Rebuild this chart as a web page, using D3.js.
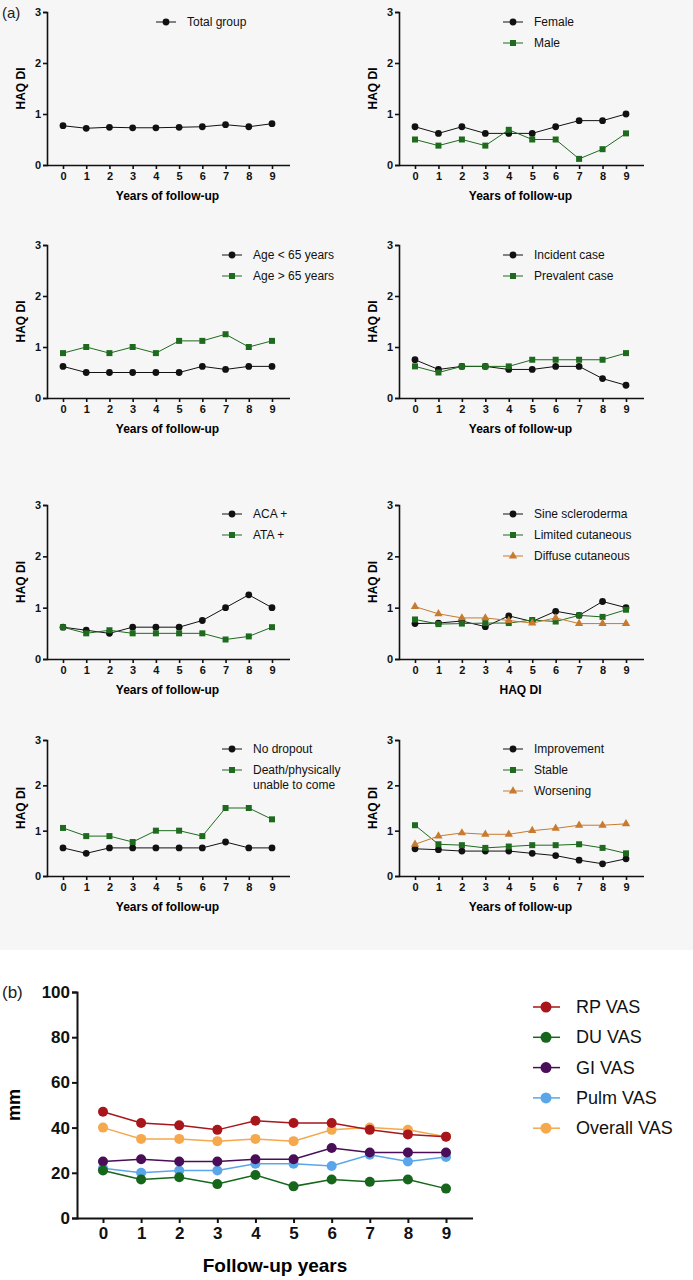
<!DOCTYPE html>
<html><head><meta charset="utf-8">
<script src="https://cdn.jsdelivr.net/npm/d3@7"></script>
<style>body{margin:0;background:#fff}svg{display:block;font-family:Arial,"Liberation Sans",sans-serif}</style>
</head><body>
<svg id="c" width="693" height="1280"></svg>
<script>
const years = [0,1,2,3,4,5,6,7,8,9]
const haqTicks = [0,1,2,3]
const total = [.77,.72,.74,.73,.73,.74,.75,.79,.75,.81]
const female = [.75,.62,.75,.62,.62,.62,.75,.87,.87,1.0]
const male = [.5,.38,.5,.38,.69,.5,.5,.12,.31,.62]
const ageLow = [.62,.5,.5,.5,.5,.5,.62,.56,.62,.62]
const ageHigh = [.88,1.0,.88,1.0,.88,1.12,1.12,1.25,1.0,1.12]
const incident = [.75,.56,.62,.62,.56,.56,.62,.62,.38,.25]
const prevalent = [.62,.5,.62,.62,.62,.75,.75,.75,.75,.88]
const aca = [.62,.56,.5,.62,.62,.62,.75,1.0,1.25,1.0]
const ata = [.62,.5,.56,.5,.5,.5,.5,.38,.44,.62]
const sine = [.69,.7,.74,.63,.84,.73,.93,.85,1.12,1.0]
const limited = [.77,.68,.69,.7,.7,.76,.73,.85,.82,.96]
const diffuse = [1.02,.88,.8,.8,.75,.7,.8,.69,.69,.69]
const noDropout = [.62,.5,.62,.62,.62,.62,.62,.75,.62,.62]
const death = [1.06,.88,.88,.75,1.0,1.0,.88,1.5,1.5,1.25]
const improvement = [.6,.58,.55,.55,.55,.5,.45,.35,.27,.38]
const stable = [1.12,.7,.68,.62,.65,.68,.68,.7,.62,.5]
const worsening = [.7,.88,.95,.92,.92,1.0,1.05,1.12,1.12,1.15]

const vasTicks = [0,20,40,60,80,100]
const rpVas = [47,42,41,39,43,42,42,39,37,36]
const duVas = [21,17,18,15,19,14,17,16,17,13]
const giVas = [25,26,25,25,26,26,31,29,29,29]
const pulmVas = [22,20,21,21,24,24,23,28,25,27]
const overallVas = [40,35,35,34,35,34,39,40,39,36]

const BLK = '#111', GRN = '#1e6a1e', ORG = '#c87a2e'
const panels = [
  {col:0,row:0,xl:'Years of follow-up',lg:[166,22],series:[{n:['Total group'],v:total,c:BLK,s:'circle'}]},
  {col:1,row:0,xl:'Years of follow-up',lg:[513,22],series:[{n:['Female'],v:female,c:BLK,s:'circle'},{n:['Male'],v:male,c:GRN,s:'square'}]},
  {col:0,row:1,xl:'Years of follow-up',lg:[232,255],series:[{n:['Age < 65 years'],v:ageLow,c:BLK,s:'circle'},{n:['Age > 65 years'],v:ageHigh,c:GRN,s:'square'}]},
  {col:1,row:1,xl:'Years of follow-up',lg:[513,255],series:[{n:['Incident case'],v:incident,c:BLK,s:'circle'},{n:['Prevalent case'],v:prevalent,c:GRN,s:'square'}]},
  {col:0,row:2,xl:'Years of follow-up',lg:[232,514],series:[{n:['ACA +'],v:aca,c:BLK,s:'circle'},{n:['ATA +'],v:ata,c:GRN,s:'square'}]},
  {col:1,row:2,xl:'HAQ DI',lg:[513,514],series:[{n:['Sine scleroderma'],v:sine,c:BLK,s:'circle'},{n:['Limited cutaneous'],v:limited,c:GRN,s:'square'},{n:['Diffuse cutaneous'],v:diffuse,c:ORG,s:'triangle'}]},
  {col:0,row:3,xl:'Years of follow-up',lg:[232,749],series:[{n:['No dropout'],v:noDropout,c:BLK,s:'circle'},{n:['Death/physically','unable to come'],v:death,c:GRN,s:'square'}]},
  {col:1,row:3,xl:'Years of follow-up',lg:[513,749],series:[{n:['Improvement'],v:improvement,c:BLK,s:'circle'},{n:['Stable'],v:stable,c:GRN,s:'square'},{n:['Worsening'],v:worsening,c:ORG,s:'triangle'}]}
]
const rowY = [[12,165],[245,398],[505,659],[740,876]]
const colX = [[47,63,272,290],[399,415,626,644]]

const svg = d3.select('#c')
svg.append('rect').attr('width',693).attr('height',950).attr('fill','#f6f6f6')
svg.append('text').attr('x',2).attr('y',18).attr('font-size',15).attr('fill','#222').text('(a)')

const symType = {circle:d3.symbolCircle,square:d3.symbolSquare,triangle:d3.symbolTriangle}
function marker(g,shape,color,x,y,size){
  g.append('path').attr('d',d3.symbol(symType[shape],size)()).attr('transform',`translate(${x},${y})`).attr('fill',color)
}

panels.forEach(p=>{
  const [ax,x0,x9,xe] = colX[p.col], [yt,yb] = rowY[p.row]
  const x = d3.scaleLinear().domain([0,9]).range([x0,x9])
  const y = d3.scaleLinear().domain([0,3]).range([yb,yt])
  const g = svg.append('g')
  const ya = g.append('g').attr('transform',`translate(${ax},0)`).call(d3.axisLeft(y).tickValues(haqTicks).tickFormat(d3.format('d')).tickSize(4).tickPadding(2))
  const xa = g.append('g').attr('transform',`translate(0,${yb})`).call(d3.axisBottom(x).tickValues(years).tickSize(4).tickPadding(3))
  xa.select('.domain').attr('d',`M${ax},0.5H${xe}`)
  ;[ya,xa].forEach(a=>{a.selectAll('path,line').attr('stroke','#111').attr('stroke-width',1.6);a.selectAll('text').attr('font-size',11).attr('font-weight','bold').attr('fill','#111')})
  g.append('text').attr('transform',`translate(${ax-22},${(yt+yb)/2}) rotate(-90)`).attr('text-anchor','middle').attr('font-size',12).attr('font-weight','bold').text('HAQ DI')
  g.append('text').attr('x',(x0+x9)/2).attr('y',yb+35).attr('text-anchor','middle').attr('font-size',12).attr('font-weight','bold').text(p.xl)
  p.series.forEach((s,i)=>{
    const line = d3.line().x((d,j)=>x(years[j])).y(d=>y(d))
    g.append('path').attr('d',line(s.v)).attr('fill','none').attr('stroke',s.c).attr('stroke-width',1)
    s.v.forEach((d,j)=>marker(g,s.s,s.c,x(years[j]),y(d),s.s==='triangle'?30:36))
    const [lx,ly] = p.lg, yy = ly+i*21
    g.append('line').attr('x1',lx-10).attr('x2',lx+10).attr('y1',yy).attr('y2',yy).attr('stroke',s.c)
    marker(g,s.s,s.c,lx,yy,s.s==='triangle'?30:36)
    s.n.forEach((t,k)=>g.append('text').attr('x',lx+21).attr('y',yy+4+k*15).attr('font-size',12).attr('fill','#111').text(t))
  })
})

// panel b
const bx = d3.scaleLinear().domain([0,9]).range([103,446])
const by = d3.scaleLinear().domain([0,100]).range([1218,992])
const gb = svg.append('g')
gb.append('text').attr('x',2).attr('y',998).attr('font-size',17).attr('fill','#222').text('(b)')
const bya = gb.append('g').attr('transform','translate(77,0)').call(d3.axisLeft(by).tickValues(vasTicks).tickSize(5).tickPadding(2))
const bxa = gb.append('g').attr('transform','translate(0,1218)').call(d3.axisBottom(bx).tickValues(years).tickSize(5).tickPadding(4))
bxa.select('.domain').attr('d','M77,0.5H473')
;[bya,bxa].forEach(a=>{a.selectAll('path,line').attr('stroke','#111').attr('stroke-width',2);a.selectAll('text').attr('font-size',17).attr('font-weight','bold').attr('fill','#111')})
gb.append('text').attr('transform','translate(20,1105) rotate(-90)').attr('text-anchor','middle').attr('font-size',18).attr('font-weight','bold').text('mm')
gb.append('text').attr('x',275).attr('y',1272).attr('text-anchor','middle').attr('font-size',19).attr('font-weight','bold').text('Follow-up years')
const vasSeries = [
  {n:'RP VAS',v:rpVas,c:'#a8161b'},{n:'DU VAS',v:duVas,c:'#16661c'},{n:'GI VAS',v:giVas,c:'#4a0d57'},
  {n:'Pulm VAS',v:pulmVas,c:'#5aa6ea'},{n:'Overall VAS',v:overallVas,c:'#f5a84c'}]
vasSeries.slice().reverse().forEach(s=>{
  gb.append('path').attr('d',d3.line().x((d,j)=>bx(years[j])).y(d=>by(d))(s.v)).attr('fill','none').attr('stroke',s.c).attr('stroke-width',1.5)
  gb.selectAll(null).data(s.v).join('circle').attr('cx',(d,j)=>bx(years[j])).attr('cy',d=>by(d)).attr('r',5).attr('fill',s.c)
})
vasSeries.forEach((s,i)=>{
  const yy = 1007+i*30.3
  gb.append('line').attr('x1',533).attr('x2',560).attr('y1',yy).attr('y2',yy).attr('stroke',s.c).attr('stroke-width',1.5)
  gb.append('circle').attr('cx',546).attr('cy',yy).attr('r',5.5).attr('fill',s.c)
  gb.append('text').attr('x',576).attr('y',yy+6).attr('font-size',18).attr('fill','#111').text(s.n)
})
</script>
</body></html>
